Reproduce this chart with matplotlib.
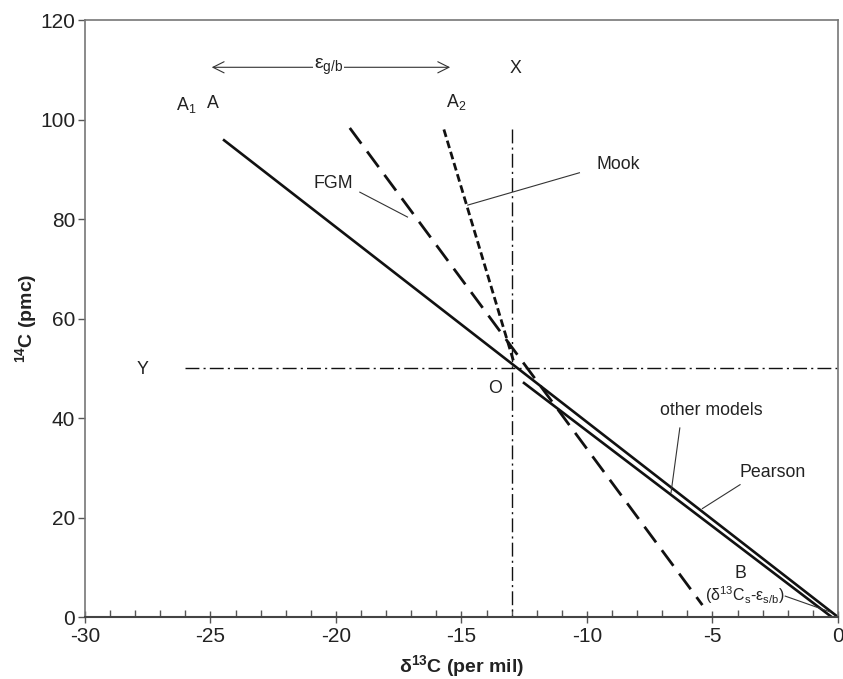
import matplotlib
matplotlib.use("Agg")
import matplotlib.pyplot as plt
from matplotlib.ticker import MultipleLocator

plt.rcParams['font.family'] = ['Liberation Sans', 'DejaVu Sans']
plt.rcParams['mathtext.fontset'] = 'custom'
plt.rcParams['mathtext.rm'] = 'Liberation Sans'
plt.rcParams['mathtext.it'] = 'Liberation Sans:italic'
plt.rcParams['mathtext.bf'] = 'Liberation Sans:bold'
plt.rcParams['axes.unicode_minus'] = False

# line end points (delta13C, 14C)
other_x = [-24.5, 0.0]
other_y = [96.0, 0.0]
pearson_x = [-12.55, -0.25]
pearson_y = [47.2, 0.0]
fgm_x = [-19.45, -5.4]
fgm_y = [98.3, 2.4]
mook_x = [-15.7, -12.9]
mook_y = [98.0, 51.0]
vert_x = [-13, -13]
vert_y = [98, 0]
horiz_x = [-26, 0]
horiz_y = [50, 50]

tc = '#222222'
lc = '#333333'

fig = plt.figure(figsize=(8.43, 6.79), dpi=100)
ax = fig.add_axes([0.1008, 0.0913, 0.8932, 0.8792])

ax.plot(other_x, other_y, color='#111111', lw=1.9, solid_capstyle='butt')
ax.plot(pearson_x, pearson_y, color='#111111', lw=1.9, solid_capstyle='butt')
ax.plot(fgm_x, fgm_y, color='#111111', lw=2.0, dashes=(7, 3.5))
ax.plot(mook_x, mook_y, color='#111111', lw=2.0, dashes=(2.8, 1.4))
ax.plot(vert_x, vert_y, color='#111111', lw=1.0, dashes=(10, 3, 1.5, 3))
ax.plot(horiz_x, horiz_y, color='#111111', lw=1.0, dashes=(10, 3, 1.5, 3))

# double arrow for epsilon g/b
ax.annotate('', xy=(-24.95, 110.5), xytext=(-15.45, 110.5),
            arrowprops=dict(arrowstyle='<->', color=lc, lw=0.8,
                            mutation_scale=20, shrinkA=0, shrinkB=0))
ax.text(-20.3, 110.6, 'ε$_{\\mathrm{g/b}}$', fontsize=14, color=tc,
        ha='center', va='center',
        bbox=dict(facecolor='white', edgecolor='none', pad=0.5))

fs = 12.8
ax.text(-12.85, 110.3, 'X', fontsize=fs, color=tc, ha='center', va='center')
ax.text(-27.7, 49.8, 'Y', fontsize=fs, color=tc, ha='center', va='center')
ax.text(-13.65, 46.0, 'O', fontsize=fs, color=tc, ha='center', va='center')
ax.text(-25.95, 103.0, 'A$_1$', fontsize=fs, color=tc, ha='center', va='center')
ax.text(-24.9, 103.3, 'A', fontsize=fs, color=tc, ha='center', va='center')
ax.text(-15.2, 103.5, 'A$_2$', fontsize=fs, color=tc, ha='center', va='center')
ax.text(-3.9, 8.8, 'B', fontsize=fs, color=tc, ha='center', va='center')

# labels and their leader lines
ax.text(-20.1, 87.2, 'FGM', fontsize=fs, color=tc, ha='center', va='center')
ax.plot([-19.05, -17.15], [85.4, 80.4], color=lc, lw=0.8)
ax.text(-8.75, 90.9, 'Mook', fontsize=fs, color=tc, ha='center', va='center')
ax.plot([-10.3, -14.75], [89.3, 82.8], color=lc, lw=0.8)
ax.text(-5.05, 41.6, 'other models', fontsize=fs, color=tc, ha='center', va='center')
ax.plot([-6.3, -6.65], [38.0, 25.0], color=lc, lw=0.8)
ax.text(-2.6, 29.1, 'Pearson', fontsize=fs, color=tc, ha='center', va='center')
ax.plot([-3.9, -5.4], [26.6, 21.8], color=lc, lw=0.8)
ax.text(-3.7, 4.4, '(δ$^{13}$C$_{\\mathrm{s}}$-ε$_{\\mathrm{s/b}}$)', fontsize=11.5,
        color=tc, ha='center', va='center')
ax.plot([-2.1, -0.3], [4.2, 1.0], color=lc, lw=0.8)

ax.set_xlim(-30, 0)
ax.set_ylim(0, 120)
ax.xaxis.set_major_locator(MultipleLocator(5))
ax.xaxis.set_minor_locator(MultipleLocator(1))
ax.yaxis.set_major_locator(MultipleLocator(20))
ax.tick_params(axis='x', which='major', direction='inout', length=9, width=1,
               color='#555555', labelsize=15, labelcolor=tc, pad=3)
ax.tick_params(axis='x', which='minor', direction='in', length=5, width=1,
               color='#555555')
ax.tick_params(axis='y', which='major', direction='out', length=5, width=1,
               color='#555555', labelsize=15, labelcolor=tc, pad=2)
for s in ax.spines.values():
    s.set_color('#777777')
    s.set_linewidth(1.2)
ax.spines['bottom'].set_color('#444444')
ax.spines['bottom'].set_linewidth(1.5)

ax.set_xlabel('δ$^{\\mathbf{13}}$C (per mil)', fontsize=14, fontweight='bold',
              color=tc, labelpad=5)
ax.set_ylabel('$^{\\mathbf{14}}$C (pmc)', fontsize=14, fontweight='bold',
              color=tc, labelpad=1)

fig.savefig('out.png', dpi=100)
